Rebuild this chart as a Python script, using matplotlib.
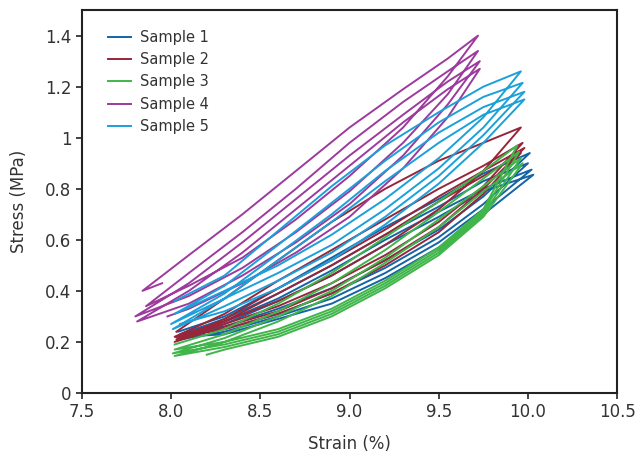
import matplotlib.pyplot as plt
from matplotlib.ticker import FixedLocator, FixedFormatter

# x stations where branch values were read
stations_a = [8.3, 8.6, 8.9, 9.2, 9.5, 9.75]   # samples 1, 2, 3, 5
stations_b = [8.1, 8.4, 8.7, 9.0, 9.3, 9.55]   # sample 4

# each loop: start point, upper branch, tip, lower branch back to next start
s1_starts = [(8.04, 0.24), (8.05, 0.23), (8.03, 0.22), (8.05, 0.21)]
s1_tips = [(10.01, 0.94), (10.00, 0.90), (10.02, 0.875), (10.03, 0.855)]
s1_upper = [[0.30, 0.41, 0.53, 0.65, 0.76, 0.86],
            [0.29, 0.39, 0.50, 0.62, 0.73, 0.83],
            [0.28, 0.37, 0.48, 0.60, 0.71, 0.80],
            [0.27, 0.36, 0.46, 0.58, 0.69, 0.79]]
s1_lower = [[0.26, 0.33, 0.41, 0.52, 0.64, 0.77],
            [0.25, 0.31, 0.39, 0.49, 0.61, 0.74],
            [0.24, 0.30, 0.37, 0.47, 0.59, 0.72],
            [0.23, 0.29, 0.35, 0.45, 0.57, 0.70]]
s1_end = (8.06, 0.22)

s2_starts = [(8.03, 0.24), (8.02, 0.22), (8.03, 0.21), (8.02, 0.20)]
s2_tips = [(9.96, 1.04), (9.97, 0.98), (9.98, 0.96), (9.96, 0.94)]
s2_upper = [[0.37, 0.52, 0.67, 0.80, 0.91, 0.98],
            [0.31, 0.44, 0.56, 0.68, 0.80, 0.89],
            [0.29, 0.41, 0.52, 0.64, 0.77, 0.87],
            [0.28, 0.39, 0.50, 0.62, 0.75, 0.85]]
s2_lower = [[0.28, 0.36, 0.46, 0.58, 0.72, 0.87],
            [0.27, 0.34, 0.43, 0.54, 0.67, 0.81],
            [0.26, 0.32, 0.41, 0.52, 0.65, 0.80],
            [0.25, 0.31, 0.39, 0.50, 0.63, 0.78]]
s2_end = (8.03, 0.22)

s3_starts = [(8.02, 0.19), (8.02, 0.17), (8.01, 0.155), (8.02, 0.145)]
s3_tips = [(9.94, 0.97), (9.95, 0.945), (9.96, 0.92), (9.97, 0.90)]
s3_upper = [[0.25, 0.35, 0.47, 0.61, 0.75, 0.87],
            [0.23, 0.32, 0.43, 0.56, 0.71, 0.84],
            [0.215, 0.30, 0.40, 0.53, 0.68, 0.81],
            [0.20, 0.28, 0.38, 0.51, 0.65, 0.79]]
s3_lower = [[0.20, 0.25, 0.33, 0.44, 0.57, 0.72],
            [0.19, 0.24, 0.32, 0.43, 0.56, 0.71],
            [0.18, 0.23, 0.31, 0.42, 0.55, 0.70],
            [0.17, 0.22, 0.30, 0.41, 0.54, 0.69]]
s3_end = (8.20, 0.15)

s4_starts = [(7.84, 0.40), (7.86, 0.34), (7.80, 0.30), (7.81, 0.28)]
s4_tips = [(9.72, 1.40), (9.72, 1.34), (9.73, 1.30), (9.73, 1.27)]
s4_upper = [[0.54, 0.70, 0.87, 1.04, 1.19, 1.31],
            [0.47, 0.63, 0.80, 0.98, 1.14, 1.26],
            [0.43, 0.59, 0.76, 0.93, 1.09, 1.22],
            [0.40, 0.55, 0.72, 0.89, 1.06, 1.19]]
s4_lower = [[0.42, 0.53, 0.68, 0.85, 1.04, 1.24],
            [0.38, 0.49, 0.63, 0.79, 0.98, 1.17],
            [0.35, 0.46, 0.59, 0.74, 0.93, 1.13],
            [0.33, 0.43, 0.55, 0.69, 0.88, 1.08]]
s4_end = (7.98, 0.30)
s4_hook = (7.95, 0.43)   # little hook before the first loading line

s5_starts = [(8.02, 0.36), (8.02, 0.31), (8.00, 0.27), (8.01, 0.25)]
s5_tips = [(9.96, 1.26), (9.97, 1.215), (9.98, 1.18), (9.98, 1.15)]
s5_upper = [[0.46, 0.635, 0.81, 0.97, 1.10, 1.20],
            [0.42, 0.58, 0.745, 0.91, 1.06, 1.16],
            [0.39, 0.545, 0.70, 0.87, 1.02, 1.12],
            [0.37, 0.52, 0.67, 0.83, 0.98, 1.09]]
s5_lower = [[0.40, 0.50, 0.62, 0.76, 0.92, 1.08],
            [0.37, 0.47, 0.58, 0.72, 0.88, 1.04],
            [0.34, 0.44, 0.55, 0.69, 0.85, 1.01],
            [0.32, 0.41, 0.52, 0.66, 0.82, 0.98]]
s5_end = (8.05, 0.27)

labels = ['Sample 1', 'Sample 2', 'Sample 3', 'Sample 4', 'Sample 5']
colors = ['#1464a5', '#97263b', '#3fb54a', '#9c3a9d', '#1ca0da']


def build_path(stations, starts, tips, upper, lower, end, lead=None):
    xs, ys = [], []
    if lead:
        xs.append(lead[0]); ys.append(lead[1])
    for i in range(len(starts)):
        xs.append(starts[i][0]); ys.append(starts[i][1])
        xs += stations; ys += upper[i]
        xs.append(tips[i][0]); ys.append(tips[i][1])
        xs += stations[::-1]; ys += lower[i][::-1]
    xs.append(end[0]); ys.append(end[1])
    return xs, ys


samples = [
    (stations_a, s1_starts, s1_tips, s1_upper, s1_lower, s1_end),
    (stations_a, s2_starts, s2_tips, s2_upper, s2_lower, s2_end),
    (stations_a, s3_starts, s3_tips, s3_upper, s3_lower, s3_end),
    (stations_b, s4_starts, s4_tips, s4_upper, s4_lower, s4_end, s4_hook),
    (stations_a, s5_starts, s5_tips, s5_upper, s5_lower, s5_end),
]

plt.rcParams['font.family'] = 'DejaVu Sans'
text_color = '#333333'

fig = plt.figure(figsize=(6.39, 4.58), dpi=100)
ax = fig.add_axes([0.128, 0.142, 0.838, 0.836])

for s, lab, c in zip(samples, labels, colors):
    x, y = build_path(*s)
    ax.plot(x, y, color=c, lw=1.4, label=lab, solid_joinstyle='round')

ax.set_xlim(7.5, 10.5)
ax.set_ylim(0, 1.5)
xt = [7.5, 8.0, 8.5, 9.0, 9.5, 10.0, 10.5]
yt = [0, 0.2, 0.4, 0.6, 0.8, 1.0, 1.2, 1.4]
ax.xaxis.set_major_locator(FixedLocator(xt))
ax.xaxis.set_major_formatter(FixedFormatter(['%.1f' % v for v in xt]))
ax.yaxis.set_major_locator(FixedLocator(yt))
ax.yaxis.set_major_formatter(FixedFormatter(['0', '0.2', '0.4', '0.6', '0.8', '1', '1.2', '1.4']))
ax.tick_params(direction='out', length=4, width=1.2, labelsize=12, colors='#222222',
               labelcolor=text_color)
for sp in ax.spines.values():
    sp.set_linewidth(1.5)
    sp.set_color('#222222')

ax.set_xlabel('Strain (%)', fontsize=12, color=text_color, labelpad=10)
ax.set_ylabel('Stress (MPa)', fontsize=12, color=text_color, labelpad=12)

ax.legend(loc='upper left', frameon=False, fontsize=10.5, handlelength=1.6,
          handletextpad=0.6, labelspacing=0.5, borderaxespad=0.3,
          bbox_to_anchor=(0.03, 0.975), labelcolor=text_color)

fig.savefig('out.png', dpi=100)
